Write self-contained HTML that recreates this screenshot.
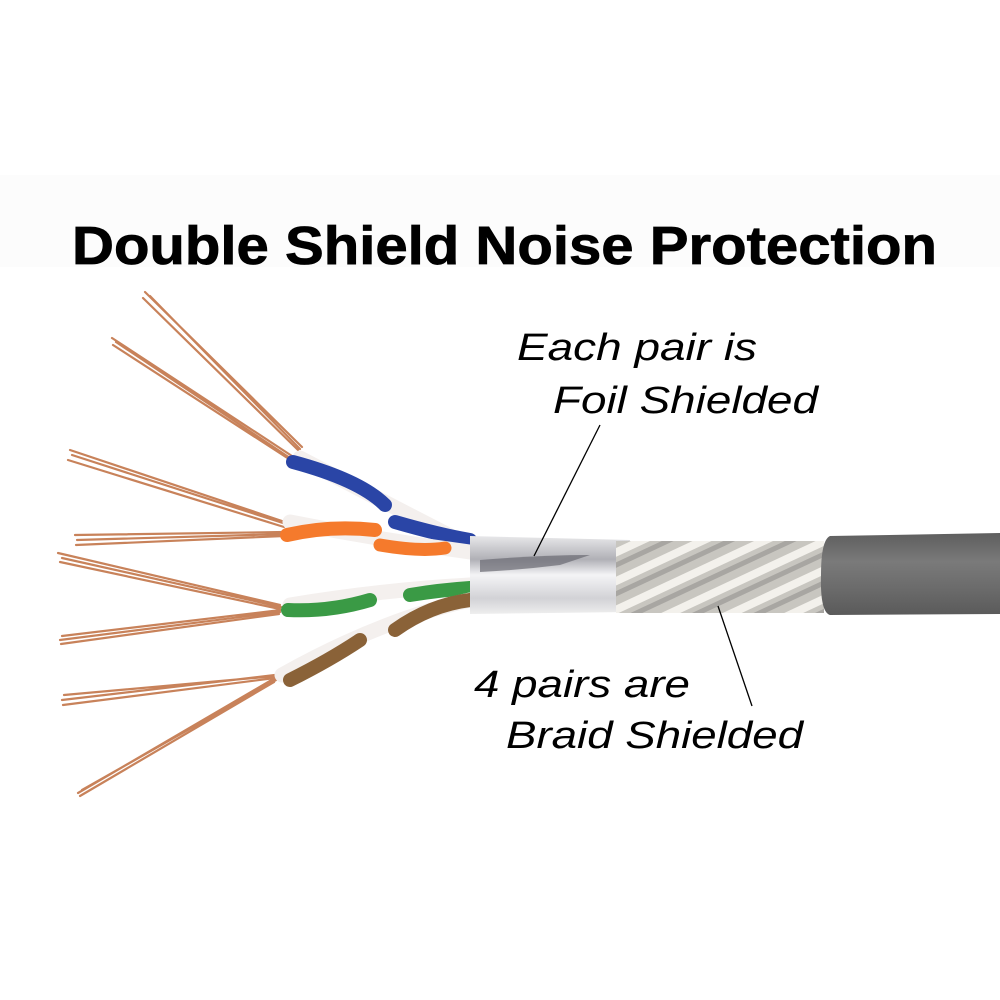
<!DOCTYPE html>
<html><head><meta charset="utf-8"><style>
html,body{margin:0;padding:0;background:#fff}
svg{display:block}
</style></head><body>
<svg width="1000" height="1000" viewBox="0 0 1000 1000" xmlns="http://www.w3.org/2000/svg">
<defs>
<linearGradient id="jk" x1="0" y1="0" x2="0" y2="1">
<stop offset="0" stop-color="#5e5e5e"/><stop offset="0.35" stop-color="#7a7a7a"/><stop offset="0.7" stop-color="#6a6a6a"/><stop offset="1" stop-color="#5a5a5a"/>
</linearGradient>
<linearGradient id="fo" x1="0" y1="0" x2="0" y2="1">
<stop offset="0" stop-color="#e8e8ea"/><stop offset="0.3" stop-color="#b0b0b6"/><stop offset="0.5" stop-color="#f4f4f6"/><stop offset="0.8" stop-color="#d2d2d6"/><stop offset="1" stop-color="#eeeeee"/>
</linearGradient>
<pattern id="br" width="26" height="26" patternUnits="userSpaceOnUse" patternTransform="rotate(-25)">
<rect width="26" height="26" fill="#c8c6c0"/>
<rect x="0" y="3" width="26" height="8" fill="#f3f1ec"/>
<rect x="0" y="16" width="26" height="5" fill="#a8a6a2"/>
</pattern>
</defs>
<rect x="0" y="175" width="1000" height="92" fill="#fcfcfc"/>
<text x="72" y="264" font-family="Liberation Sans, sans-serif" font-weight="bold" font-size="54" textLength="865" lengthAdjust="spacingAndGlyphs" fill="#000" stroke="#000" stroke-width="0.8">Double Shield Noise Protection</text>

<g stroke="#c8825a" stroke-width="2.2" fill="none" stroke-linecap="round">
<path d="M145 292 L302 447 M150 296 L300 449 M143 298 L298 450"/>
<path d="M112 338 L295 458 M116 342 L293 460 M113 345 L292 461"/>
<path d="M70 450 L285 522 M72 455 L286 524 M68 460 L284 527"/>
<path d="M75 535 L285 532 M77 540 L285 534 M76 545 L284 536"/>
<path d="M58 553 L280 605 M62 558 L281 607 M60 562 L280 609"/>
<path d="M60 640 L280 612 M62 636 L281 610 M61 644 L279 614"/>
<path d="M62 700 L275 675 M64 695 L276 676 M63 705 L275 678"/>
<path d="M78 793 L275 678 M82 790 L276 680 M80 796 L274 682"/>
</g>

<g fill="none" stroke-linecap="round">
<path d="M300 458 Q380 500 470 546" stroke="#f4f0ee" stroke-width="15"/>
<path d="M293 462 Q360 480 385 505" stroke="#2a45a6" stroke-width="14"/>
<path d="M395 522 Q440 535 470 540" stroke="#2a45a6" stroke-width="14"/>
<path d="M290 522 Q380 540 470 552" stroke="#f4f0ee" stroke-width="15"/>
<path d="M287 535 Q330 525 375 530" stroke="#f57a2c" stroke-width="14"/>
<path d="M380 545 Q420 552 445 548" stroke="#f57a2c" stroke-width="13"/>
<path d="M290 605 Q380 590 470 585" stroke="#f4f0ee" stroke-width="15"/>
<path d="M288 610 Q330 612 370 600 M410 595 Q440 590 470 588" stroke="#3a9a45" stroke-width="14"/>
<path d="M282 675 Q380 620 470 600" stroke="#f4f0ee" stroke-width="15"/>
<path d="M290 680 Q330 660 360 640 M395 630 Q430 605 470 600" stroke="#8a6238" stroke-width="14"/>
</g>

<path d="M470 536 L630 540 L630 612 L470 614 Z" fill="url(#fo)"/>
<path d="M480 560 Q540 555 590 555 L560 565 Q520 570 480 572 Z" fill="#6a6a72" opacity="0.7"/>
<rect x="616" y="541" width="208" height="72" fill="url(#br)"/>
<path d="M830 536 L1000 533 L1000 614 L830 615 Q820 612 821 575 Q821 540 830 536 Z" fill="url(#jk)"/>

<line x1="600" y1="425" x2="534" y2="556" stroke="#000" stroke-width="1.3"/>
<line x1="718" y1="606" x2="752" y2="706" stroke="#000" stroke-width="1.3"/>

<g font-family="Liberation Sans, sans-serif" font-style="italic" font-size="38" fill="#000">
<text x="517" y="360" textLength="240" lengthAdjust="spacingAndGlyphs">Each pair is</text>
<text x="553" y="413" textLength="265" lengthAdjust="spacingAndGlyphs">Foil Shielded</text>
<text x="474" y="697" textLength="216" lengthAdjust="spacingAndGlyphs">4 pairs are</text>
<text x="506" y="748" textLength="297" lengthAdjust="spacingAndGlyphs">Braid Shielded</text>
</g>
</svg>
</body></html>
